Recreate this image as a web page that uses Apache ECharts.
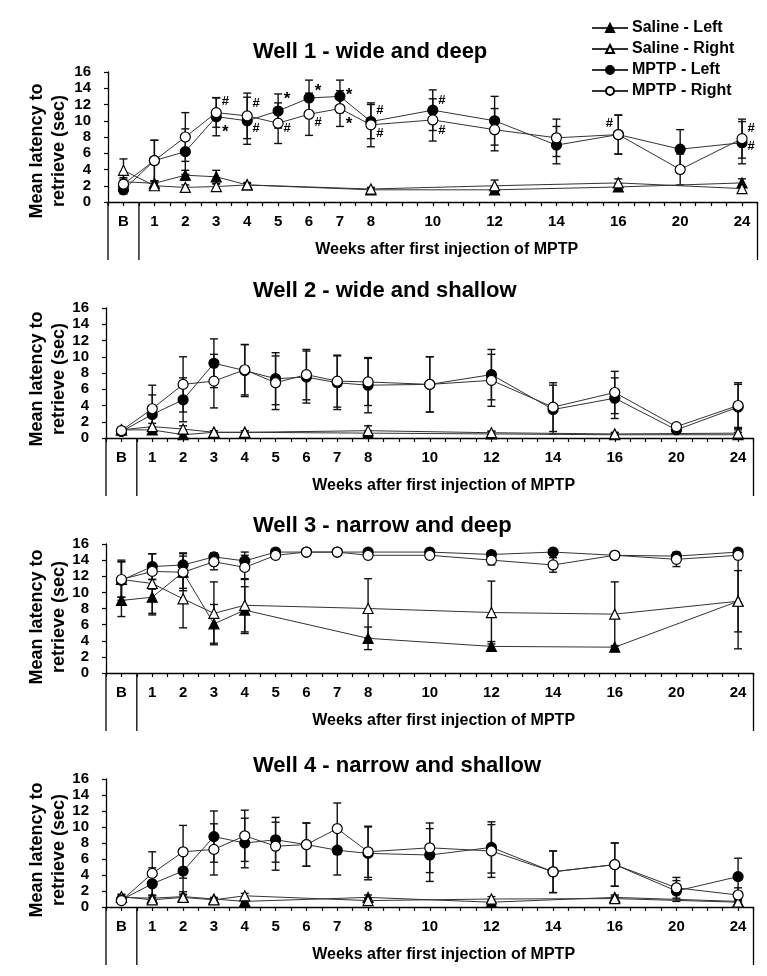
<!DOCTYPE html>
<html><head><meta charset="utf-8">
<script src="https://cdn.jsdelivr.net/npm/echarts@6/dist/echarts.min.js"></script>
<style>html,body{margin:0;padding:0;background:#fff}#c{width:767px;height:976px}</style>
</head><body><div id="c"></div>
<script>
// ---- axis categories (slot per 1 week up to 8, then per 2 weeks) ----
const categories = ['B','1','2','3','4','5','6','7','8','','10','','12','','14','','16','','20','','24'];
const weeks = ['B','1','2','3','4','5','6','7','8','10','12','14','16','20','24'];
const seriesNames = ['Saline - Left','Saline - Right','MPTP - Left','MPTP - Right'];
const panelTitles = ['Well 1 - wide and deep','Well 2 - wide and shallow','Well 3 - narrow and deep','Well 4 - narrow and shallow'];
const yAxisTitle = 'Mean latency to\nretrieve (sec)';
const xAxisTitle = 'Weeks after first injection of MPTP';

// ---- Well 1 ----
const w1SalineLeft     = [2.5,2.3,3.3,3.1,2.1,null,null,null,1.5,null,1.5,null,1.85,null,2.35];
const w1SalineLeftErr  = [0.5,0.3,0.6,0.8,0.2,null,null,null,0.2,null,0.3,null,0.4,null,0.5];
const w1SalineRight    = [3.9,2.0,1.8,1.9,2.1,null,null,null,1.6,null,2.0,null,2.35,null,1.65];
const w1SalineRightErr = [1.4,0.3,0.3,0.3,0.3,null,null,null,0.2,null,0.7,null,0.5,null,0.4];
const w1MptpLeft       = [1.5,5.1,6.2,10.5,10.0,11.2,12.8,13.0,9.9,11.3,10.0,7.0,8.3,6.5,7.3];
const w1MptpLeftErr    = [0.5,2.5,2.8,2.35,2.9,2.1,2.2,2.0,2.1,2.5,3.0,2.3,2.4,2.4,2.6];
const w1MptpRight      = [2.2,5.1,8.0,11.0,10.6,9.7,10.8,11.5,9.5,10.1,8.9,7.9,8.3,4.0,7.8];
const w1MptpRightErr   = [0.6,2.5,3.0,1.8,2.8,2.5,2.6,2.2,2.7,2.6,2.6,2.3,2.4,1.9,2.4];
// significance marks: [week, value, mark, side]
const w1Marks = [
  ['3',12.4,'#','r'],['3',9.0,'*','r'],['4',12.1,'#','r'],['4',9.0,'#','r'],
  ['5',13.0,'*','r'],['5',9.0,'#','r'],['6',14.05,'*','r'],['6',9.8,'#','r'],
  ['7',13.5,'*','r'],['7',9.9,'*','r'],['8',11.25,'#','r'],['8',8.5,'#','r'],
  ['10',12.5,'#','r'],['10',8.8,'#','r'],['16',9.7,'#','l'],['24',9.0,'#','r'],['24',6.8,'#','r']
];

// ---- Well 2 ----
const w2SalineLeft     = [1.0,1.0,0.4,0.7,0.7,null,null,null,0.6,null,0.5,null,0.4,null,0.4];
const w2SalineLeftErr  = [0.3,0.3,0.3,0.2,0.2,null,null,null,0.3,null,0.3,null,0.2,null,0.3];
const w2SalineRight    = [1.0,1.4,1.1,0.7,0.7,null,null,null,0.9,null,0.65,null,0.5,null,0.6];
const w2SalineRightErr = [0.3,0.4,0.4,0.2,0.2,null,null,null,0.6,null,0.2,null,0.2,null,0.7];
const w2MptpLeft       = [0.8,2.9,4.7,9.2,8.3,7.3,7.5,6.8,6.5,6.6,7.8,3.5,4.9,1.0,3.8];
const w2MptpLeftErr    = [0.3,2.4,2.7,3.0,3.2,3.2,3.2,3.3,3.4,3.4,3.1,3.0,2.5,0.3,2.8];
const w2MptpRight      = [0.9,3.6,6.6,7.0,8.4,6.8,7.8,7.0,6.9,6.6,7.1,3.8,5.6,1.4,4.0];
const w2MptpRightErr   = [0.3,2.9,3.4,3.3,3.1,3.3,3.1,3.2,2.9,3.4,3.2,3.0,2.6,0.3,2.8];

// ---- Well 3 ----
const w3SalineLeft     = [9.0,9.4,12.5,6.1,7.8,null,null,null,4.3,null,3.3,null,3.2,null,8.9];
const w3SalineLeftErr  = [2.0,2.2,2.0,2.4,2.9,null,null,null,1.4,null,0.6,null,0.2,null,3.8];
const w3SalineRight    = [11.6,11.1,9.2,7.4,8.4,null,null,null,8.0,null,7.5,null,7.3,null,8.9];
const w3SalineRightErr = [2.2,3.7,3.6,3.9,3.3,null,null,null,3.7,null,3.9,null,4.0,null,5.9];
const w3MptpLeft       = [11.5,13.2,13.4,14.4,13.9,15.0,15.0,15.0,15.0,15.0,14.7,15.0,14.6,14.5,15.0];
const w3MptpLeftErr    = [2.5,1.6,1.5,0.5,1.1,0.2,0,0,0.2,0.2,0.4,0.2,0.2,0.4,0.2];
const w3MptpRight      = [11.6,12.6,12.5,13.8,13.1,14.6,15.0,15.0,14.6,14.6,14.0,13.4,14.6,14.1,14.6];
const w3MptpRightErr   = [2.2,2.2,2.3,1.0,1.5,0.4,0,0,0.4,0.4,0.6,0.9,0.3,0.9,0.4];

// ---- Well 4 ----
const w4SalineLeft     = [1.2,1.1,1.3,1.0,0.7,null,null,null,1.2,null,0.6,null,1.2,null,0.7];
const w4SalineLeftErr  = [0.3,0.3,0.3,0.2,0.2,null,null,null,0.3,null,0.3,null,0.3,null,0.2];
const w4SalineRight    = [1.3,0.9,1.2,0.9,1.4,null,null,null,0.8,null,1.0,null,1.05,null,0.6];
const w4SalineRightErr = [0.3,0.3,0.3,0.2,0.3,null,null,null,0.3,null,0.3,null,0.3,null,0.2];
const w4MptpLeft       = [0.9,2.9,4.5,8.8,8.0,8.4,7.8,7.1,6.7,6.5,7.45,4.4,5.3,2.0,3.8];
const w4MptpLeftErr    = [0.3,2.0,2.6,3.2,3.1,2.8,2.7,3.1,3.3,3.3,3.2,2.6,2.7,1.3,2.3];
const w4MptpRight      = [0.8,4.2,6.9,7.2,8.9,7.6,7.8,9.8,6.9,7.4,7.0,4.4,5.3,2.4,1.5];
const w4MptpRightErr   = [0.3,2.7,3.3,3.2,3.2,3.0,2.7,3.2,3.2,3.1,3.3,2.6,2.7,1.3,0.9];

const panels = [
  {vals:[w1SalineLeft,w1SalineRight,w1MptpLeft,w1MptpRight], errs:[w1SalineLeftErr,w1SalineRightErr,w1MptpLeftErr,w1MptpRightErr], marks:w1Marks},
  {vals:[w2SalineLeft,w2SalineRight,w2MptpLeft,w2MptpRight], errs:[w2SalineLeftErr,w2SalineRightErr,w2MptpLeftErr,w2MptpRightErr], marks:[]},
  {vals:[w3SalineLeft,w3SalineRight,w3MptpLeft,w3MptpRight], errs:[w3SalineLeftErr,w3SalineRightErr,w3MptpLeftErr,w3MptpRightErr], marks:[]},
  {vals:[w4SalineLeft,w4SalineRight,w4MptpLeft,w4MptpRight], errs:[w4SalineLeftErr,w4SalineRightErr,w4MptpLeftErr,w4MptpRightErr], marks:[]}
];

// ---- layout ----
const FONT = '"Liberation Sans", Arial, Helvetica, sans-serif';
const grids = [
  {left:108, right:9.5, top:72, height:130},
  {left:106, right:13.5, top:308, height:130},
  {left:106, right:13.5, top:544, height:129},
  {left:106, right:13.5, top:779, height:128}
];
const titleCenterY = [53, 292, 527, 767];
const yNameCenterY = [151, 379, 617, 850];
const styles = [
  {symbol:'triangle', fill:'#000', size:10},
  {symbol:'triangle', fill:'#fff', size:10},
  {symbol:'circle', fill:'#000', size:10},
  {symbol:'circle', fill:'#fff', size:10}
];
const slot = w => categories.indexOf(w);

const option = {
  animation:false,
  backgroundColor:'#fff',
  textStyle:{fontFamily:FONT},
  title: panelTitles.map((t,i)=>({text:t, left:253, top:titleCenterY[i]-12, padding:0,
    textStyle:{fontFamily:FONT, fontSize:22, fontWeight:'bold', color:'#000'}})),
  legend:{
    orient:'vertical', left:586, top:15, itemWidth:36, itemHeight:10, itemGap:5,
    data:seriesNames,
    textStyle:{fontFamily:FONT, fontSize:16, fontWeight:'bold', color:'#000', padding:[0,0,0,-1]},
    selectedMode:false
  },
  grid: grids,
  xAxis: grids.map((g,i)=>({
    type:'value', gridIndex:i, min:-0.5, max:20.5, interval:0.5,
    axisLine:{show:true, onZero:false, lineStyle:{color:'#000', width:1.3}},
    axisTick:{show:true, length:4, lineStyle:{color:'#000', width:1.2}},
    splitLine:{show:false},
    axisLabel:{margin:12, fontFamily:FONT, fontSize:15, fontWeight:'bold', color:'#000',
      showMinLabel:true, showMaxLabel:true,
      formatter:v=>{const r=Math.round(v); if(Math.abs(v-r)>1e-6) return ''; return categories[r]||'';}}
  })),
  yAxis: grids.map((g,i)=>({
    type:'value', gridIndex:i, min:0, max:16, interval:2,
    axisLine:{show:true, onZero:false, lineStyle:{color:'#000', width:1.3}},
    axisTick:{show:true, length:4, lineStyle:{color:'#000', width:1.2}},
    splitLine:{show:false},
    axisLabel:{margin:17, fontFamily:FONT, fontSize:15, fontWeight:'bold', color:'#000'}
  })),
  series: []
};

panels.forEach((p,pi)=>{
  // error bars (behind lines/markers)
  seriesNames.forEach((nm,si)=>{
    const data = [];
    weeks.forEach((w,k)=>{ if(p.vals[si][k]!=null) data.push([slot(w), p.vals[si][k], p.errs[si][k]]); });
    option.series.push({
      type:'custom', name:nm+' SEM', xAxisIndex:pi, yAxisIndex:pi, z:1, silent:true,
      data:data,
      renderItem:(params, api)=>{
        const x=api.value(0), y=api.value(1), e=api.value(2);
        if(!e) return null;
        const top=api.coord([x,y+e]), bot=api.coord([x,y-e]);
        const h=4;
        const st={stroke:'#111', lineWidth:1.4};
        return {type:'group', children:[
          {type:'line', shape:{x1:top[0],y1:top[1],x2:bot[0],y2:bot[1]}, style:st},
          {type:'line', shape:{x1:top[0]-h,y1:top[1],x2:top[0]+h,y2:top[1]}, style:st},
          {type:'line', shape:{x1:bot[0]-h,y1:bot[1],x2:bot[0]+h,y2:bot[1]}, style:st}
        ]};
      }
    });
  });
  // lines + markers
  seriesNames.forEach((nm,si)=>{
    const data = [];
    weeks.forEach((w,k)=>{ if(p.vals[si][k]!=null) data.push([slot(w), p.vals[si][k]]); });
    const s = styles[si];
    option.series.push({
      type:'line', name:nm, xAxisIndex:pi, yAxisIndex:pi, z:2+si,
      data:data, symbol:s.symbol, symbolSize:s.size, showSymbol:true,
      lineStyle:{color:'#333', width:1},
      itemStyle:{color:s.fill, borderColor:'#000', borderWidth:1.2},
      emphasis:{disabled:true}
    });
  });
  // significance marks
  if(p.marks.length){
    option.series.push({
      type:'custom', name:'marks'+pi, xAxisIndex:pi, yAxisIndex:pi, z:10, silent:true,
      data:p.marks.map(m=>[slot(m[0]), m[1], m[2]==='*'?1:0, m[3]==='l'?-1:1]),
      renderItem:(params, api)=>{
        const pt=api.coord([api.value(0), api.value(1)]);
        const star=api.value(2)===1, side=api.value(3);
        return {type:'text', x:pt[0]+side*9, y:pt[1]+(star?3:0),
          style:{text:star?'*':'#', fill:'#000', font:'bold '+(star?17:13)+'px '+FONT,
            align:'center', verticalAlign:'middle'}};
      }
    });
  }
});

const chart = echarts.init(document.getElementById('c'), null, {renderer:'canvas'});
chart.setOption(option);

// decorations below each x axis (table-like frame) and axis titles
const graphics = [];
grids.forEach((g,i)=>{
  const f = {xAxisIndex:i, yAxisIndex:i};
  const pL = chart.convertToPixel(f,[-0.5,0]);
  const pD = chart.convertToPixel(f,[0.5,0]);
  const pR = chart.convertToPixel(f,[20.5,0]);
  const pM = chart.convertToPixel(f,[10.45,0]);
  const y0 = pL[1];
  [pL,pD,pR].forEach(p=>graphics.push({type:'line', shape:{x1:p[0],y1:y0,x2:p[0],y2:y0+58},
    style:{stroke:'#000', lineWidth:1.3}, z:5}));
  graphics.push({type:'text', x:pM[0], y:y0+48, style:{text:xAxisTitle, fill:'#000',
    font:'bold 16px '+FONT, align:'center', verticalAlign:'middle'}, z:5});
  graphics.push({type:'text', x:48, y:yNameCenterY[i], rotation:Math.PI/2,
    style:{text:yAxisTitle, fill:'#000', font:'bold 18px '+FONT, lineHeight:22,
      align:'center', verticalAlign:'middle'}, z:5});
});
chart.setOption({graphic:graphics});
</script></body></html>
